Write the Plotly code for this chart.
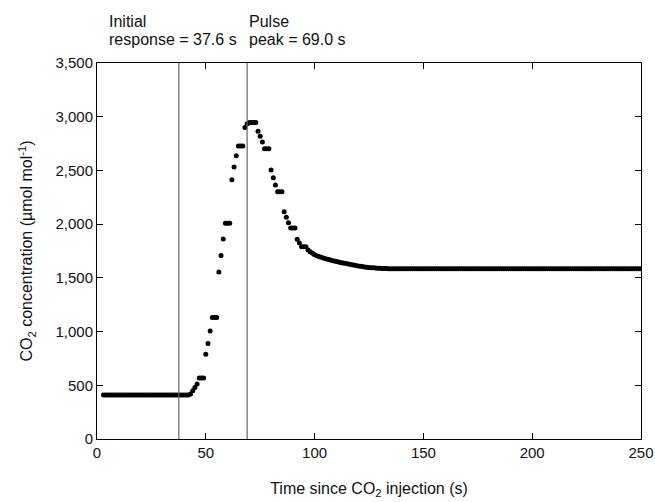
import plotly.graph_objects as go

# Time (s) sampled every second
time_s = list(range(3, 251))

co2 = [
    # t 3-42 baseline
    410, 410, 410, 410, 410, 410, 410, 410, 410, 410, 410, 410, 410, 410, 410, 410, 410, 410, 410, 410,
    410, 410, 410, 410, 410, 410, 410, 410, 410, 410, 410, 410, 410, 410, 410, 410, 410, 410, 410, 410,
    # t 43-62 rise
    420, 450, 480, 512, 568, 568, 568, 790, 890, 1005, 1130, 1130, 1130, 1555, 1707, 1862, 2008, 2008, 2008, 2414,
    # t 63-82 peak
    2532, 2637, 2727, 2727, 2727, 2900, 2935, 2945, 2945, 2945, 2945, 2864, 2818, 2765, 2702, 2702, 2702, 2504, 2432, 2364,
    # t 83-102 decline
    2302, 2302, 2302, 2116, 2064, 2014, 1964, 1964, 1964, 1859, 1825, 1790, 1790, 1790, 1760, 1744, 1730, 1715, 1706, 1698,
    # t 103-122
    1691, 1685, 1679, 1673, 1668, 1662, 1657, 1652, 1647, 1643, 1639, 1635, 1631, 1627, 1623, 1619, 1615, 1611, 1608, 1605,
    # t 123-133
    1602, 1599, 1597, 1595, 1593, 1591, 1590, 1589, 1588, 1587, 1586,
    # t 134-250 plateau
    1585, 1585, 1585, 1585, 1585, 1585, 1585, 1585, 1585, 1585, 1585, 1585, 1585, 1585, 1585, 1585, 1585, 1585, 1585, 1585,
    1585, 1585, 1585, 1585, 1585, 1585, 1585, 1585, 1585, 1585, 1585, 1585, 1585, 1585, 1585, 1585, 1585, 1585, 1585, 1585,
    1585, 1585, 1585, 1585, 1585, 1585, 1585, 1585, 1585, 1585, 1585, 1585, 1585, 1585, 1585, 1585, 1585, 1585, 1585, 1585,
    1585, 1585, 1585, 1585, 1585, 1585, 1585, 1585, 1585, 1585, 1585, 1585, 1585, 1585, 1585, 1585, 1585, 1585, 1585, 1585,
    1585, 1585, 1585, 1585, 1585, 1585, 1585, 1585, 1585, 1585, 1585, 1585, 1585, 1585, 1585, 1585, 1585, 1585, 1585, 1585,
    1585, 1585, 1585, 1585, 1585, 1585, 1585, 1585, 1585, 1585, 1585, 1585, 1585, 1585, 1585, 1585, 1585,
]

event_times = [37.6, 69.0]
event_labels = [["Initial", "response = 37.6 s"], ["Pulse", "peak = 69.0 s"]]
event_label_x = [4.6, 69.0]

x_ticks = [0, 50, 100, 150, 200, 250]
y_ticks = [0, 500, 1000, 1500, 2000, 2500, 3000, 3500]

FONT = "Liberation Sans, Arial, sans-serif"

fig = go.Figure()
fig.add_trace(go.Scatter(
    x=time_s, y=co2, mode="markers",
    marker=dict(color="black", size=5, line=dict(width=0)),
    showlegend=False, hoverinfo="skip",
))

for t in event_times:
    fig.add_shape(type="line", xref="x", yref="paper", x0=t, x1=t, y0=0, y1=1,
                  line=dict(color="#666666", width=1.2))

for lbl, lx in zip(event_labels, event_label_x):
    fig.add_annotation(x=lx, xref="x", y=1.1117, yref="paper", text=lbl[0], showarrow=False,
                       xanchor="left", yanchor="middle", font=dict(size=16, color="#111", family=FONT))
    fig.add_annotation(x=lx, xref="x", y=1.0638, yref="paper", text=lbl[1], showarrow=False,
                       xanchor="left", yanchor="middle", font=dict(size=16, color="#111", family=FONT))

fig.update_layout(
    width=655, height=502,
    margin=dict(l=97, r=14, t=63, b=63, autoexpand=False),
    paper_bgcolor="white", plot_bgcolor="white",
    font=dict(family=FONT, size=15, color="#111"),
    xaxis=dict(
        range=[0, 250], tickvals=x_ticks, ticks="inside", ticklen=6, tickcolor="black",
        showline=True, linecolor="black", linewidth=1, mirror="ticks", showgrid=False, zeroline=False,
        title=dict(text="Time since CO<sub>2</sub> injection (s)", font=dict(size=16), standoff=22),
        tickfont=dict(size=15), automargin=False,
    ),
    yaxis=dict(
        range=[0, 3500], tickvals=y_ticks, tickformat=",", ticks="inside", ticklen=6, tickcolor="black",
        showline=True, linecolor="black", linewidth=1, mirror="ticks", showgrid=False, zeroline=False,
        title=dict(text="CO<sub>2</sub> concentration (µmol mol<sup>-1</sup>)", font=dict(size=16), standoff=18),
        tickfont=dict(size=15), automargin=False,
    ),
)

fig.write_html(
    "out.html",
    config={"displayModeBar": False},
    post_script="document.body.style.margin='0px';document.body.style.overflow='hidden';",
)
